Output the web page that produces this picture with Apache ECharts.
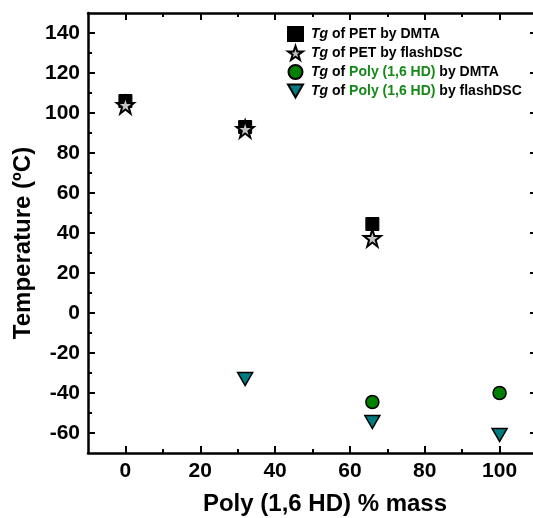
<!DOCTYPE html>
<html>
<head>
<meta charset="utf-8">
<script src="https://cdn.jsdelivr.net/npm/echarts@6/dist/echarts.min.js"></script>
<style>
  html, body { margin: 0; padding: 0; background: #fff; }
  #chart { width: 533px; height: 518px; }
</style>
</head>
<body>
<div id="chart"></div>
<script>
// Glass transition temperatures vs. Poly(1,6 HD) content
const petMass = [0, 32, 66];
const petDMTA = [106, 93, 44.5];
const petFlashDSC = [104, 92, 37.5];

const polyDMTAMass = [66, 100];
const polyDMTA = [-44.5, -40];
const polyFlashMass = [32, 66, 100];
const polyFlashDSC = [-33, -54.5, -61];

const xMajorTicks = [0, 20, 40, 60, 80, 100];
const xMinorTicks = [10, 30, 50, 70, 90];
const yMajorTicks = [-60, -40, -20, 0, 20, 40, 60, 80, 100, 120, 140];
const yMinorTicks = [-50, -30, -10, 10, 30, 50, 70, 90, 110, 130];

const seriesNames = [
  'Tg of PET by DMTA',
  'Tg of PET by flashDSC',
  'Tg of Poly (1,6 HD) by DMTA',
  'Tg of Poly (1,6 HD) by flashDSC'
];
const legendLabels = [
  '{it|Tg} of PET by DMTA',
  '{it|Tg} of PET by flashDSC',
  '{it|Tg} of {g|Poly (1,6 HD)} by DMTA',
  '{it|Tg} of {g|Poly (1,6 HD)} by flashDSC'
];

const FONT = '"Liberation Sans", Arial, sans-serif';
const GREEN_TEXT = '#17891a';
const STAR = 'path://M50,0 L61.8,35.1 L98.5,35.1 L68.8,56.8 L79.4,91 L50,70 L20.6,91 L31.2,56.8 L1.5,35.1 L38.2,35.1 Z';
const TRI_DOWN = 'path://M0,0 L100,0 L50,88 Z';

const pairs = (xs, ys) => xs.map((x, i) => [x, ys[i]]);

const X_MIN = -10, X_MAX = 110, Y_MIN = -70, Y_MAX = 150;

function axis(range, position, ticks, len, showLine, labels) {
  return {
    type: 'value', position, min: range[0], max: range[1],
    axisLine: { show: showLine, onZero: false, lineStyle: { color: '#000', width: 2.5 } },
    axisTick: { show: true, inside: true, length: len, customValues: ticks, lineStyle: { color: '#000', width: 2 } },
    axisLabel: labels ? {
      show: true, customValues: ticks, margin: 8, color: '#000',
      fontFamily: FONT, fontWeight: 'bold', fontSize: 21
    } : { show: false },
    splitLine: { show: false }
  };
}
const xr = [X_MIN, X_MAX], yr = [Y_MIN, Y_MAX];

const chart = echarts.init(document.getElementById('chart'), null, { renderer: 'canvas' });

chart.setOption({
  animation: false,
  backgroundColor: '#fff',
  grid: { left: 88, right: -4, top: 13, bottom: 65, containLabel: false, outerBoundsMode: 'none' },
  xAxis: [
    axis(xr, 'bottom', xMajorTicks, 7, true, true),
    axis(xr, 'bottom', xMinorTicks, 4, false, false),
    axis(xr, 'top', xMajorTicks, 7, true, false),
    axis(xr, 'top', xMinorTicks, 4, false, false)
  ],
  yAxis: [
    axis(yr, 'left', yMajorTicks, 7, true, true),
    axis(yr, 'left', yMinorTicks, 4, false, false),
    axis(yr, 'right', yMajorTicks, 7, false, false),
    axis(yr, 'right', yMinorTicks, 4, false, false)
  ],
  legend: {
    orient: 'vertical',
    left: 287, top: 26, padding: 0,
    itemWidth: 15, itemHeight: 14, itemGap: 3,
    data: seriesNames,
    formatter: name => legendLabels[seriesNames.indexOf(name)],
    textStyle: {
      color: '#000', fontFamily: FONT, fontWeight: 'bold', fontSize: 14, lineHeight: 16,
      padding: [0, 0, 0, 3],
      rich: {
        it: { fontStyle: 'italic', fontWeight: 'bold', fontFamily: FONT, fontSize: 14, lineHeight: 16, color: '#000' },
        g: { color: GREEN_TEXT, fontWeight: 'bold', fontFamily: FONT, fontSize: 14, lineHeight: 16 }
      }
    }
  },
  graphic: [
    {
      type: 'text', x: 325, y: 504,
      style: {
        text: 'Poly (1,6 HD) % mass', fill: '#000',
        font: 'bold 24px ' + FONT, textAlign: 'center', textVerticalAlign: 'middle'
      }
    },
    {
      type: 'text', x: 23, y: 243, rotation: Math.PI / 2,
      style: {
        text: 'Temperature (ºC)', fill: '#000',
        font: 'bold 24px ' + FONT, textAlign: 'center', textVerticalAlign: 'middle'
      }
    }
  ],
  series: [
    {
      name: seriesNames[0], type: 'scatter', symbol: 'rect', symbolSize: 13,
      itemStyle: { color: '#000', borderColor: '#000', borderWidth: 1, opacity: 1 },
      data: pairs(petMass, petDMTA), z: 2
    },
    {
      name: seriesNames[1], type: 'scatter', symbol: STAR, symbolSize: 17,
      itemStyle: { color: '#c4c4c4', borderColor: '#000', borderWidth: 2, opacity: 1 },
      data: pairs(petMass, petFlashDSC), z: 3
    },
    {
      name: seriesNames[2], type: 'scatter', symbol: 'circle', symbolSize: 13,
      itemStyle: { color: '#008000', borderColor: '#000', borderWidth: 1.5, opacity: 1 },
      data: pairs(polyDMTAMass, polyDMTA), z: 2
    },
    {
      name: seriesNames[3], type: 'scatter', symbol: TRI_DOWN, symbolSize: [15, 13],
      itemStyle: { color: '#007b7f', borderColor: '#000', borderWidth: 1.5, opacity: 1 },
      data: pairs(polyFlashMass, polyFlashDSC), z: 2
    }
  ]
});
</script>
</body>
</html>
